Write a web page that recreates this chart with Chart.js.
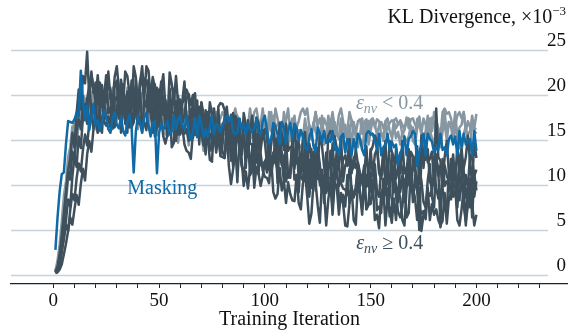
<!DOCTYPE html>
<html>
<head>
<meta charset="utf-8">
<script src="https://cdn.jsdelivr.net/npm/chart.js@4.4.1/dist/chart.umd.min.js"></script>
<style>
  html, body { margin: 0; padding: 0; background: #fff; }
  canvas { display: block; }
</style>
</head>
<body>
<canvas id="chart" width="568" height="332"></canvas>
<script>
"use strict"

// KL divergence (x1e-3) per training iteration, iterations 1..200
const firstIter = 1;

const masking = [
    2.8, 6.4, 9.3, 11.2, 11.4, 14.6, 17.1, 17.0, 16.9, 17.3, 18.0, 17.6, 22.7, 19.5, 17.2, 18.8, 16.1, 17.4, 19.0, 16.6,
    17.2, 16.0, 16.9, 18.3, 17.5, 16.2, 15.8, 17.4, 18.1, 16.7, 16.3, 17.6, 16.0, 15.5, 17.0, 17.8, 16.4, 11.4, 15.9, 17.7,
    16.8, 15.9, 17.5, 18.0, 16.6, 15.4, 16.9, 17.1, 11.3, 15.8, 16.8, 16.2, 16.6, 17.1, 15.6, 16.0, 17.7, 16.2, 17.4, 17.7,
    16.5, 16.2, 17.7, 15.9, 15.0, 15.9, 17.4, 15.3, 17.7, 16.8, 15.3, 16.2, 15.3, 16.5, 17.7, 15.6, 16.8, 16.5, 15.9, 16.5,
    17.4, 17.7, 17.1, 17.7, 15.9, 15.6, 15.9, 17.4, 16.2, 16.8, 15.6, 16.8, 16.2, 15.9, 16.3, 17.4, 15.9, 15.6, 17.1, 17.7,
    16.1, 14.6, 15.1, 16.9, 16.5, 15.6, 14.5, 17.0, 16.4, 14.6, 16.0, 16.9, 15.0, 16.8, 16.4, 14.9, 16.1, 15.4, 14.2, 13.9,
    15.3, 16.2, 14.3, 13.7, 16.4, 15.7, 14.8, 16.0, 14.7, 15.1, 14.8, 16.0, 13.9, 14.2, 13.3, 15.4, 15.7, 13.6, 15.1, 14.5,
    13.3, 15.1, 13.9, 15.7, 15.1, 13.9, 13.3, 15.7, 16.0, 15.6, 15.7, 15.1, 13.9, 15.7, 13.3, 14.2, 14.5, 15.7, 13.9, 14.8,
    14.2, 14.5, 12.3, 13.6, 14.0, 15.4, 13.3, 15.1, 15.4, 16.0, 15.7, 12.1, 13.6, 14.5, 15.7, 13.3, 15.7, 15.1, 14.8, 13.6,
    14.2, 13.9, 15.7, 13.9, 14.2, 13.3, 15.1, 15.5, 14.5, 15.4, 13.3, 16.0, 14.2, 15.7, 14.5, 14.9, 15.1, 13.3, 16.0, 13.8
];

// runs with eps_nv < 0.4
const lowRuns = [
    [
        0.4, 1.6, 3.4, 5.9, 8.8, 10.4, 13.1, 14.2, 16.5, 15.3, 17.9, 19.4, 17.9, 20.0, 19.6, 18.6, 17.6, 20.4, 19.7, 17.6,
        19.3, 20.4, 18.3, 20.4, 19.9, 18.3, 19.7, 19.0, 17.6, 17.2, 19.0, 20.0, 17.9, 17.2, 20.4, 19.7, 18.6, 20.4, 18.6, 18.2,
        18.9, 20.2, 17.7, 18.0, 16.8, 19.2, 19.5, 17.0, 18.6, 17.8, 16.4, 18.4, 16.9, 18.9, 18.2, 16.7, 15.9, 18.6, 18.9, 18.5,
        18.4, 17.6, 16.1, 18.2, 15.3, 16.3, 16.5, 17.9, 15.7, 16.7, 16.0, 16.3, 15.6, 15.3, 15.8, 17.4, 14.9, 17.0, 17.4, 18.1,
        17.7, 15.6, 15.3, 16.3, 17.7, 14.9, 17.7, 17.0, 16.7, 15.3, 16.0, 15.6, 17.7, 15.6, 16.0, 14.9, 17.0, 16.6, 16.3, 17.4,
        14.9, 18.1, 16.0, 17.7, 16.3, 16.8, 17.0, 14.9, 18.1, 16.7, 16.2, 14.9, 16.7, 17.7, 15.6, 16.1, 16.0, 15.3, 17.4, 15.6,
        16.7, 16.0, 16.7, 18.1, 16.3, 14.9, 17.7, 15.3, 15.6, 17.7, 16.3, 17.7, 15.3, 15.8, 15.1, 17.4, 16.3, 16.7, 14.9, 15.6,
        17.2, 16.3, 15.3, 14.9, 15.6, 17.4, 14.9, 15.3, 17.1, 16.0, 17.3, 16.7, 15.6, 15.3, 15.8, 14.9, 16.7, 16.2, 16.9, 17.2,
        17.0, 16.3, 16.8, 17.0, 15.6, 16.1, 17.5, 16.3, 17.3, 17.4, 16.7, 16.3, 17.6, 16.0, 14.9, 16.0, 17.7, 15.3, 17.5, 17.0,
        15.3, 16.3, 15.3, 16.7, 18.1, 15.6, 17.0, 16.7, 16.0, 16.7, 17.7, 18.1, 17.4, 18.1, 16.0, 15.6, 16.0, 17.7, 16.3, 17.9
    ],
    [
        0.3, 0.8, 2.0, 3.7, 5.8, 8.1, 10.6, 12.0, 13.9, 15.6, 14.4, 16.8, 18.3, 17.0, 18.3, 16.9, 19.0, 18.3, 16.9, 16.2,
        19.0, 19.4, 18.9, 19.0, 18.3, 16.9, 19.0, 16.2, 17.3, 17.6, 19.0, 16.9, 18.0, 17.3, 17.6, 16.9, 16.6, 17.0, 18.7, 16.2,
        18.2, 18.5, 19.2, 18.7, 16.5, 16.1, 17.1, 18.4, 15.5, 18.2, 17.5, 17.1, 15.6, 16.2, 15.8, 17.8, 15.6, 15.9, 14.7, 16.8,
        16.7, 15.9, 16.9, 14.4, 17.5, 15.3, 16.9, 15.5, 15.4, 16.0, 13.8, 17.0, 15.6, 15.1, 13.8, 15.6, 16.6, 14.5, 14.9, 15.3,
        14.2, 16.3, 14.5, 15.6, 14.9, 15.6, 17.0, 15.2, 13.8, 16.6, 14.2, 14.5, 16.6, 15.2, 16.6, 14.2, 14.7, 13.9, 16.3, 15.2,
        15.6, 13.8, 14.5, 16.6, 15.2, 14.2, 13.8, 14.5, 16.3, 13.8, 14.2, 17.0, 14.9, 16.6, 15.6, 14.5, 14.2, 14.7, 13.8, 15.6,
        15.6, 15.1, 17.0, 15.9, 15.2, 15.7, 15.9, 14.5, 14.9, 17.0, 15.2, 16.6, 17.0, 15.6, 15.2, 17.0, 14.9, 13.8, 14.9, 16.6,
        14.2, 17.0, 15.9, 14.2, 15.2, 14.2, 15.6, 17.0, 14.5, 15.9, 15.6, 14.9, 15.6, 16.6, 17.0, 16.3, 17.0, 14.9, 14.5, 14.9,
        16.6, 15.2, 15.9, 14.5, 15.9, 15.2, 14.9, 15.4, 16.6, 14.9, 14.5, 16.3, 17.0, 15.6, 13.8, 14.5, 16.6, 16.1, 15.2, 14.2,
        17.0, 16.3, 14.2, 15.9, 17.0, 14.9, 17.0, 16.5, 14.9, 16.3, 15.6, 14.2, 13.8, 15.6, 16.6, 14.5, 13.8, 17.0, 16.3, 16.2
    ],
    [
        0.6, 1.2, 2.6, 4.5, 6.7, 9.3, 11.8, 13.4, 15.0, 17.2, 16.3, 18.7, 17.5, 19.7, 19.4, 18.0, 18.7, 18.3, 20.4, 18.3,
        18.7, 17.6, 19.7, 19.2, 19.0, 20.1, 17.6, 20.8, 18.7, 20.4, 19.0, 19.5, 19.7, 17.6, 20.8, 19.4, 18.9, 17.6, 19.4, 20.4,
        18.2, 18.6, 18.5, 17.7, 19.7, 17.9, 18.9, 18.1, 18.7, 20.1, 18.2, 16.7, 19.5, 17.0, 17.2, 19.2, 17.8, 19.1, 16.6, 16.5,
        16.9, 18.5, 17.3, 17.6, 15.8, 16.4, 18.4, 17.0, 15.9, 15.4, 16.0, 17.8, 15.3, 15.7, 18.5, 16.4, 18.1, 17.1, 16.0, 15.7,
        15.7, 15.3, 17.1, 16.6, 17.4, 18.5, 17.4, 16.7, 16.3, 17.4, 16.0, 16.5, 18.5, 16.7, 18.1, 18.5, 17.1, 16.7, 18.5, 16.4,
        15.3, 16.4, 18.1, 15.7, 18.5, 17.4, 15.7, 16.7, 15.7, 17.1, 18.5, 16.0, 17.4, 17.1, 16.4, 17.1, 18.1, 18.5, 17.8, 18.5,
        16.4, 16.0, 16.4, 18.1, 16.7, 17.4, 16.0, 17.4, 16.7, 16.4, 16.8, 18.1, 16.4, 16.0, 17.8, 18.5, 17.1, 15.3, 16.0, 18.1,
        17.2, 16.7, 15.7, 17.1, 17.3, 15.7, 17.0, 17.3, 16.4, 17.2, 17.4, 16.4, 17.3, 17.1, 15.7, 15.3, 17.1, 17.4, 16.0, 15.3,
        17.2, 17.4, 16.7, 17.2, 16.7, 16.2, 17.1, 17.4, 16.0, 16.4, 15.3, 17.3, 17.5, 15.7, 17.4, 16.7, 15.3, 17.4, 16.0, 18.1,
        17.4, 16.0, 15.3, 18.1, 18.5, 17.9, 18.1, 17.4, 16.0, 18.1, 15.3, 16.4, 16.7, 18.1, 16.0, 17.1, 16.4, 16.7, 16.0, 15.7
    ]
];

// runs with eps_nv >= 0.4
const highRuns = [
    [
        0.3, 0.7, 1.9, 3.8, 6.2, 8.9, 11.6, 13.0, 15.8, 14.2, 17.9, 20.6, 18.4, 22.1, 21.3, 24.8, 19.6, 22.6, 20.2, 21.4,
        19.0, 21.4, 20.2, 19.6, 19.2, 22.6, 19.6, 19.0, 22.0, 23.2, 20.8, 17.8, 19.0, 22.6, 22.1, 20.2, 18.4, 23.2, 22.0, 18.4,
        21.4, 23.2, 19.6, 23.2, 22.7, 19.6, 22.0, 20.8, 18.4, 17.8, 20.7, 22.3, 18.6, 17.2, 22.5, 21.2, 19.2, 22.1, 18.9, 18.8,
        19.3, 21.5, 17.2, 17.6, 15.7, 19.8, 20.2, 15.9, 18.7, 17.4, 14.9, 18.3, 15.8, 19.2, 17.9, 15.4, 14.0, 18.7, 19.1, 19.0,
        18.3, 16.9, 14.4, 17.8, 12.9, 14.6, 15.0, 17.3, 13.5, 15.2, 13.9, 14.3, 13.0, 12.2, 12.1, 15.6, 11.2, 14.7, 15.1, 16.2,
        15.5, 11.8, 11.1, 12.8, 15.1, 10.2, 14.9, 13.6, 12.9, 10.4, 11.5, 10.8, 14.3, 10.6, 11.1, 9.2, 12.7, 12.6, 11.3, 13.0,
        8.7, 14.0, 10.3, 13.2, 10.7, 10.6, 11.7, 8.0, 13.3, 10.8, 10.7, 7.6, 10.5, 12.2, 8.5, 8.4, 8.9, 7.6, 11.1, 8.0,
        9.8, 8.6, 9.8, 12.1, 9.1, 6.7, 11.5, 7.3, 7.9, 11.4, 9.0, 11.4, 7.2, 7.6, 6.9, 10.7, 8.9, 9.5, 6.5, 7.7,
        11.3, 8.8, 7.0, 6.4, 7.6, 10.6, 6.4, 6.9, 11.7, 8.1, 11.1, 9.3, 7.5, 6.8, 7.1, 6.2, 9.2, 8.8, 9.5, 11.5,
        9.7, 8.5, 8.9, 9.7, 7.3, 7.2, 11.4, 8.4, 10.8, 11.4, 9.0, 8.3, 11.3, 7.7, 5.9, 7.7, 10.7, 6.4, 11.2, 9.4
    ],
    [
        0.2, 0.4, 1.1, 2.5, 4.3, 6.1, 8.4, 7.6, 10.9, 13.2, 12.0, 15.4, 14.1, 17.6, 19.0, 16.8, 20.5, 22.2, 21.0, 19.2,
        22.2, 19.2, 18.7, 19.8, 22.2, 18.0, 18.6, 16.8, 21.0, 21.6, 17.4, 20.4, 19.2, 16.8, 20.4, 18.0, 21.6, 20.4, 18.0, 16.8,
        21.6, 22.2, 21.7, 21.6, 20.4, 18.0, 21.6, 16.8, 18.6, 19.2, 21.5, 17.8, 19.4, 18.1, 18.6, 17.3, 16.6, 16.4, 19.9, 15.6,
        19.1, 19.6, 20.6, 19.9, 16.2, 15.5, 17.2, 19.4, 14.5, 19.2, 17.9, 17.2, 14.6, 15.7, 15.0, 18.5, 14.8, 15.2, 13.3, 16.8,
        16.7, 15.4, 17.0, 12.7, 18.0, 14.3, 17.2, 14.6, 14.5, 15.6, 11.9, 17.2, 14.6, 14.5, 11.4, 14.3, 16.0, 12.2, 12.1, 12.6,
        11.4, 14.9, 11.9, 13.6, 12.4, 13.5, 15.9, 12.8, 10.4, 15.1, 10.9, 11.4, 15.0, 12.5, 14.9, 10.6, 11.0, 10.5, 14.1, 12.2,
        12.8, 9.7, 10.9, 14.4, 12.0, 10.1, 9.5, 10.6, 13.6, 9.3, 9.9, 14.6, 11.0, 13.9, 12.1, 10.2, 9.6, 9.5, 8.9, 11.8,
        11.6, 12.0, 14.0, 12.2, 11.0, 10.7, 12.2, 9.8, 10.3, 14.0, 11.0, 13.4, 14.0, 11.6, 11.0, 14.0, 10.4, 8.6, 10.4, 13.4,
        9.2, 14.0, 12.2, 9.2, 11.0, 9.2, 11.6, 14.0, 9.8, 12.2, 11.6, 10.4, 5.0, 13.4, 14.0, 12.8, 14.0, 10.4, 9.8, 10.4,
        13.4, 11.0, 12.2, 9.8, 12.2, 11.0, 10.4, 10.9, 13.4, 10.4, 9.8, 12.8, 14.0, 11.6, 8.6, 9.8, 13.4, 12.9, 11.0, 11.7
    ],
    [
        0.2, 0.3, 0.6, 1.2, 2.3, 3.5, 4.9, 6.4, 5.6, 7.3, 8.9, 7.8, 10.1, 11.8, 10.5, 13.4, 14.9, 13.7, 16.2, 17.5,
        15.9, 18.4, 15.8, 19.4, 20.0, 21.2, 20.6, 17.0, 16.4, 18.2, 20.6, 15.8, 20.6, 19.4, 18.8, 16.4, 17.6, 17.0, 20.6, 17.0,
        17.6, 15.8, 19.4, 18.9, 18.2, 20.0, 15.8, 21.2, 17.6, 20.6, 18.1, 18.0, 19.1, 15.4, 20.7, 18.1, 18.0, 14.9, 17.8, 19.5,
        15.8, 15.7, 16.2, 14.9, 18.4, 15.2, 16.9, 15.6, 16.7, 19.0, 15.9, 13.4, 18.1, 13.8, 14.3, 17.7, 15.2, 17.5, 13.2, 13.1,
        13.0, 16.5, 14.6, 15.1, 12.0, 13.0, 16.5, 14.0, 12.1, 11.4, 12.5, 15.4, 11.1, 11.6, 16.3, 12.5, 15.4, 13.5, 11.6, 10.9,
        10.8, 10.2, 13.1, 12.7, 13.0, 15.3, 13.5, 12.2, 12.1, 13.3, 10.8, 11.3, 14.9, 11.8, 14.2, 14.7, 12.2, 11.6, 14.5, 10.9,
        9.0, 10.7, 13.7, 9.4, 14.1, 12.3, 9.2, 11.0, 9.1, 11.4, 13.8, 9.5, 11.8, 11.2, 9.9, 11.1, 12.8, 13.3, 12.1, 13.2,
        9.3, 8.7, 9.3, 12.3, 9.9, 11.1, 8.7, 11.1, 9.9, 9.3, 9.8, 12.3, 9.3, 8.7, 11.7, 12.9, 10.5, 7.5, 8.7, 12.3,
        11.8, 9.9, 8.1, 12.9, 11.7, 8.1, 11.1, 12.9, 9.3, 12.9, 12.4, 9.3, 11.7, 10.5, 8.1, 7.5, 10.5, 12.3, 8.7, 7.5,
        12.9, 11.7, 5.3, 12.9, 9.9, 10.4, 10.5, 12.9, 8.7, 9.3, 7.5, 11.7, 12.3, 8.1, 11.1, 9.9, 7.5, 11.1, 8.7, 10.4
    ],
    [
        0.3, 0.5, 1.3, 2.7, 4.0, 5.6, 4.9, 7.2, 9.0, 8.3, 10.7, 12.4, 11.5, 13.9, 15.6, 14.4, 16.9, 18.3, 18.8, 19.3,
        15.8, 18.8, 20.6, 17.0, 16.6, 17.6, 16.4, 20.0, 17.0, 18.8, 17.6, 18.8, 21.2, 18.2, 15.8, 20.6, 16.4, 17.0, 20.6, 18.2,
        20.6, 16.4, 16.9, 16.1, 20.0, 18.1, 18.5, 15.4, 16.4, 19.9, 17.3, 15.4, 14.6, 15.7, 18.6, 14.2, 14.7, 19.3, 15.6, 18.4,
        16.5, 14.5, 13.8, 13.6, 12.9, 15.8, 15.6, 15.5, 17.7, 15.8, 14.4, 14.3, 15.3, 12.8, 12.6, 16.7, 13.6, 15.8, 16.3, 13.7,
        13.0, 15.8, 12.1, 10.1, 11.8, 14.7, 10.3, 15.0, 13.0, 9.9, 11.5, 9.6, 11.8, 14.1, 9.7, 12.0, 11.3, 9.9, 11.0, 12.6,
        13.1, 11.8, 12.9, 9.2, 8.5, 9.0, 11.9, 9.4, 10.5, 8.0, 10.3, 9.0, 8.3, 8.2, 11.1, 8.0, 7.3, 10.2, 11.3, 8.8,
        5.7, 6.8, 10.3, 10.2, 7.7, 5.8, 10.5, 9.2, 5.5, 8.4, 10.3, 6.7, 10.3, 9.8, 6.7, 9.1, 7.9, 5.5, 5.4, 7.9,
        9.7, 6.1, 5.6, 10.3, 9.1, 7.3, 10.3, 7.3, 7.8, 7.9, 10.3, 6.1, 6.7, 5.2, 9.1, 9.7, 5.5, 8.5, 7.3, 5.8,
        8.5, 6.1, 9.7, 8.5, 6.1, 5.5, 9.7, 10.3, 9.9, 9.7, 8.5, 6.1, 9.7, 4.9, 6.7, 7.3, 9.7, 6.1, 7.9, 6.7,
        7.3, 6.1, 5.5, 6.0, 9.1, 5.7, 8.5, 9.1, 10.3, 9.7, 6.1, 5.5, 7.3, 9.7, 5.5, 9.7, 8.5, 7.9, 5.5, 6.7
    ],
    [
        0.4, 0.9, 2.3, 4.4, 6.8, 9.1, 11.5, 10.6, 13.7, 12.8, 15.9, 17.3, 16.2, 18.8, 17.5, 19.6, 21.0, 18.3, 16.3, 16.9,
        21.7, 18.1, 21.1, 19.3, 17.5, 16.9, 17.4, 16.3, 19.3, 19.8, 18.9, 21.7, 19.9, 18.7, 19.2, 19.9, 17.5, 18.0, 21.7, 18.7,
        21.1, 21.7, 19.3, 18.7, 21.7, 18.0, 16.1, 17.9, 20.8, 16.5, 21.2, 19.3, 16.3, 18.0, 16.1, 18.4, 20.7, 16.4, 18.8, 18.1,
        16.8, 17.9, 19.6, 20.1, 18.9, 20.0, 16.3, 15.6, 16.1, 19.1, 16.6, 17.7, 15.2, 17.5, 16.2, 15.6, 15.5, 18.4, 15.3, 14.6,
        17.6, 18.7, 16.2, 13.1, 14.2, 17.7, 17.2, 15.2, 13.3, 18.0, 16.7, 13.1, 16.0, 17.7, 14.0, 17.5, 16.9, 13.8, 16.1, 14.8,
        12.4, 11.7, 14.7, 16.5, 12.8, 11.6, 16.9, 15.7, 13.9, 16.8, 13.8, 14.2, 14.3, 16.7, 12.4, 13.0, 11.2, 15.3, 15.9, 11.7,
        14.6, 13.4, 10.9, 14.5, 12.1, 15.6, 14.4, 12.0, 10.7, 15.5, 16.0, 15.6, 15.4, 14.1, 11.7, 15.3, 10.4, 12.2, 12.7, 15.1,
        11.3, 13.1, 11.9, 12.5, 11.3, 10.7, 11.1, 14.3, 10.1, 13.7, 14.3, 15.5, 14.9, 11.3, 10.7, 12.5, 14.9, 10.1, 14.9, 13.7,
        13.1, 10.7, 11.9, 11.3, 14.9, 11.3, 11.9, 10.1, 13.7, 13.2, 12.5, 14.3, 10.1, 15.5, 11.9, 14.9, 12.5, 12.9, 13.7, 10.1,
        18.5, 13.1, 12.7, 10.1, 13.1, 14.9, 11.3, 11.7, 11.9, 10.7, 14.3, 11.3, 13.1, 11.9, 13.1, 15.5, 12.5, 10.1, 14.9, 13.0
    ]
];

const yGridValues = [0, 5, 10, 15, 20, 25];
const xTickValues = [0, 10, 20, 30, 40, 50, 60, 70, 80, 90, 100, 110, 120,
    130, 140, 150, 160, 170, 180, 190, 200, 210, 220, 230];
const xLabelValues = [0, 50, 100, 150, 200];

const blue = "#0f6aa6";
const slate = "#3e505c";
const grey = "#8797a2";
const serif = '"Liberation Serif", "Times New Roman", serif';

function toPoints(values) {
    return values.map((v, i) => ({ x: firstIter + i, y: v }));
}

const datasets = [{ label: "Masking", data: toPoints(masking), borderColor: blue, order: 0 }];
highRuns.forEach((run, i) => {
    datasets.push({ label: "high " + i, data: toPoints(run), borderColor: slate, order: 1 });
});
lowRuns.forEach((run, i) => {
    datasets.push({ label: "low " + i, data: toPoints(run), borderColor: grey, order: 2 });
});

// horizontal grid lines stop short of the right-hand value labels
const gridPlugin = {
    id: "grid",
    beforeDatasetsDraw(chart) {
        const ctx = chart.ctx;
        const y = chart.scales.y;
        ctx.save();
        ctx.strokeStyle = "#c8d3dc";
        ctx.lineWidth = 1.4;
        yGridValues.forEach(v => {
            const py = Math.round(y.getPixelForValue(v)) + 0.5;
            ctx.beginPath();
            ctx.moveTo(chart.chartArea.left, py);
            ctx.lineTo(548, py);
            ctx.stroke();
        });
        ctx.restore();
    }
};

// draws "eps_nv <op> 0.4" with an italic epsilon and subscript
function drawEps(ctx, x, y, op, color) {
    ctx.fillStyle = color;
    ctx.textBaseline = "alphabetic";
    ctx.textAlign = "left";
    const parts = [
        { t: "\u03b5", f: "italic 20px " + serif, dy: 0 },
        { t: "nv", f: "italic 14px " + serif, dy: 4 },
        { t: " " + op + " ", f: "20px " + serif, dy: 0 },
        { t: "0.4", f: "20px " + serif, dy: 0 }
    ];
    let w = 0;
    parts.forEach(p => { ctx.font = p.f; w += ctx.measureText(p.t).width; });
    let px = x - w / 2;
    parts.forEach(p => {
        ctx.font = p.f;
        ctx.fillText(p.t, px, y + p.dy);
        px += ctx.measureText(p.t).width;
    });
}

const textPlugin = {
    id: "texts",
    afterDraw(chart) {
        const ctx = chart.ctx;
        const xs = chart.scales.x;
        const ys = chart.scales.y;
        ctx.save();

        // value labels sitting above their grid lines
        ctx.fillStyle = "#111";
        ctx.font = "19px " + serif;
        ctx.textAlign = "right";
        ctx.textBaseline = "alphabetic";
        yGridValues.forEach(v => {
            ctx.fillText(String(v), 566, ys.getPixelForValue(v) - 4);
        });

        // axis title with exponent
        ctx.font = "13px " + serif;
        const expW = ctx.measureText("\u22123").width;
        ctx.fillText("\u22123", 566, 15);
        ctx.font = "20px " + serif;
        ctx.fillText("KL Divergence, \u00d710", 566 - expW, 23);

        // series labels
        ctx.font = "20px " + serif;
        ctx.fillStyle = blue;
        ctx.textAlign = "center";
        ctx.fillText("Masking", xs.getPixelForValue(51.5), ys.getPixelForValue(9.7) + 6);
        drawEps(ctx, xs.getPixelForValue(159), ys.getPixelForValue(19.1) + 6, "<", grey);
        drawEps(ctx, xs.getPixelForValue(159), ys.getPixelForValue(3.6) + 6, "\u2265", slate);
        ctx.restore();
    }
};

new Chart(document.getElementById("chart"), {
    type: "line",
    data: { datasets: datasets },
    options: {
        responsive: false,
        animation: false,
        layout: { padding: { left: 11, right: 0, top: 5, bottom: 0 } },
        plugins: { legend: { display: false }, tooltip: { enabled: false } },
        elements: {
            point: { radius: 0 },
            line: { borderWidth: 2.5, tension: 0, borderJoinStyle: "round" }
        },
        scales: {
            x: {
                type: "linear",
                min: -20,
                max: 243.3,
                afterBuildTicks: scale => {
                    scale.ticks = xTickValues.map(v => ({ value: v }));
                },
                afterFit: scale => { scale.height = 48; },
                ticks: {
                    autoSkip: false,
                    maxRotation: 0,
                    padding: 2,
                    color: "#111",
                    font: { family: serif, size: 19 },
                    callback: v => (xLabelValues.includes(v) ? String(v) : "")
                },
                grid: { drawOnChartArea: false, drawTicks: true, tickLength: 4, color: "#222", lineWidth: 1 },
                border: { color: "#222", width: 1.2 },
                title: {
                    display: true,
                    text: "Training Iteration",
                    color: "#111",
                    font: { family: serif, size: 20 },
                    padding: { top: 0, bottom: 0 }
                }
            },
            y: { display: false, min: -1, max: 30 }
        }
    },
    plugins: [gridPlugin, textPlugin]
});
</script>
</body>
</html>
